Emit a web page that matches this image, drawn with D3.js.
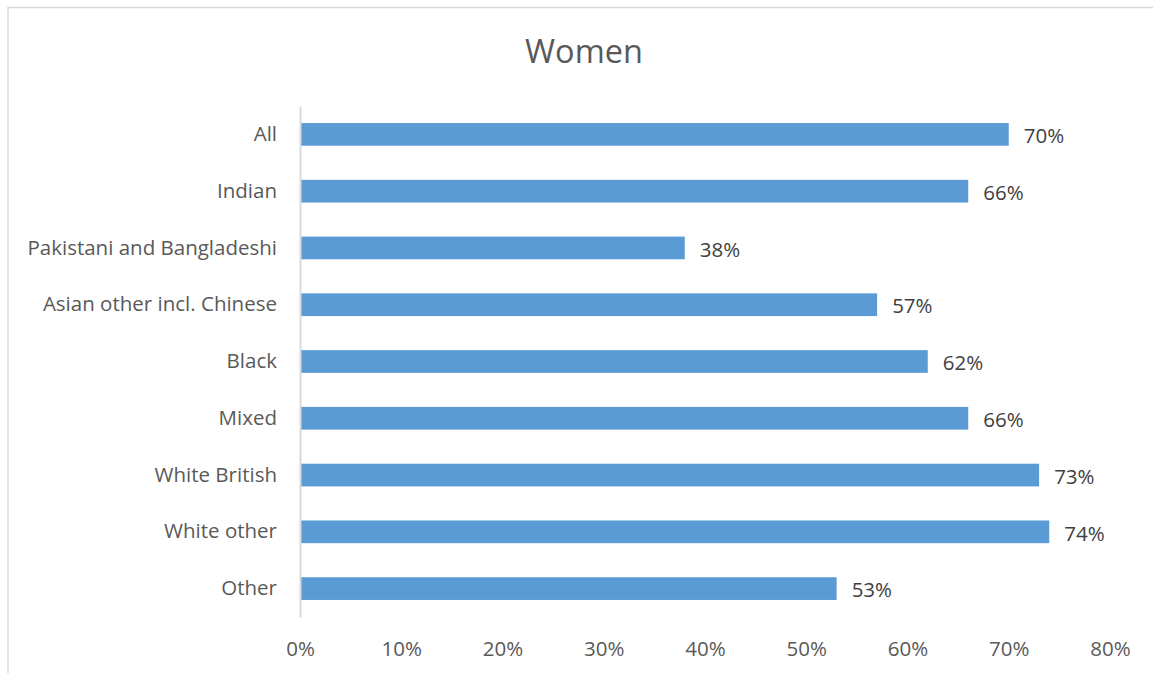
<!DOCTYPE html>
<html>
<head>
<meta charset="utf-8">
<script src="https://cdn.jsdelivr.net/npm/d3@7"></script>
<style>
  html, body { margin: 0; padding: 0; background: #fff; }
  svg { display: block; }
  text { font-family: "Open Sans", "Noto Sans", sans-serif; }
</style>
</head>
<body>
<svg id="chart" width="1153" height="673"></svg>
<script>
const categories = ["All", "Indian", "Pakistani and Bangladeshi", "Asian other incl. Chinese", "Black", "Mixed", "White British", "White other", "Other"];
const values = [70, 66, 38, 57, 62, 66, 73, 74, 53];
const tickValues = [0, 10, 20, 30, 40, 50, 60, 70, 80];
const title = "Women";

const svg = d3.select("#chart");

// chart border
svg.append("rect")
  .attr("x", 8).attr("y", 7.5)
  .attr("width", 1200).attr("height", 700)
  .attr("fill", "#fff").attr("stroke", "#d9d9d9").attr("stroke-width", 1.5);

const x = d3.scaleLinear().domain([0, 80]).range([300, 1110]);
const y = d3.scaleBand().domain(categories).range([106, 617]).paddingInner(0.6).paddingOuter(0.3);

// title
svg.append("text")
  .attr("x", 584).attr("y", 63)
  .attr("text-anchor", "middle")
  .attr("font-size", 32.5)
  .attr("fill", "#595959")
  .text(title);

// bars
svg.append("g").selectAll("rect")
  .data(categories)
  .join("rect")
  .attr("x", x(0))
  .attr("y", d => y(d))
  .attr("width", (d, i) => x(values[i]) - x(0))
  .attr("height", y.bandwidth())
  .attr("fill", "#5b9bd5");

// value labels
svg.append("g").selectAll("text")
  .data(categories)
  .join("text")
  .attr("x", (d, i) => x(values[i]) + 15)
  .attr("y", d => y(d) + y.bandwidth() / 2 + 1.5)
  .attr("dy", "0.35em")
  .attr("font-size", 20.5)
  .attr("fill", "#404040")
  .text((d, i) => values[i] + "%");

// y axis
const yAxis = d3.axisLeft(y).tickSize(0).tickPadding(23);
const gy = svg.append("g").attr("transform", `translate(${x(0)},0)`).call(yAxis);
gy.select(".domain").attr("stroke", "#d9d9d9").attr("stroke-width", 2);
gy.selectAll("text")
  .attr("font-size", 20.5)
  .attr("font-family", "'Open Sans', 'Noto Sans', sans-serif")
  .attr("fill", "#595959");

// x axis (labels only)
const xAxis = d3.axisBottom(x).tickValues(tickValues).tickSize(0).tickPadding(0).tickFormat(d => d + "%");
const gx = svg.append("g").attr("transform", `translate(0,641)`).call(xAxis);
gx.select(".domain").remove();
gx.selectAll("text")
  .attr("font-size", 20.5)
  .attr("font-family", "'Open Sans', 'Noto Sans', sans-serif")
  .attr("fill", "#595959");
</script>
</body>
</html>
